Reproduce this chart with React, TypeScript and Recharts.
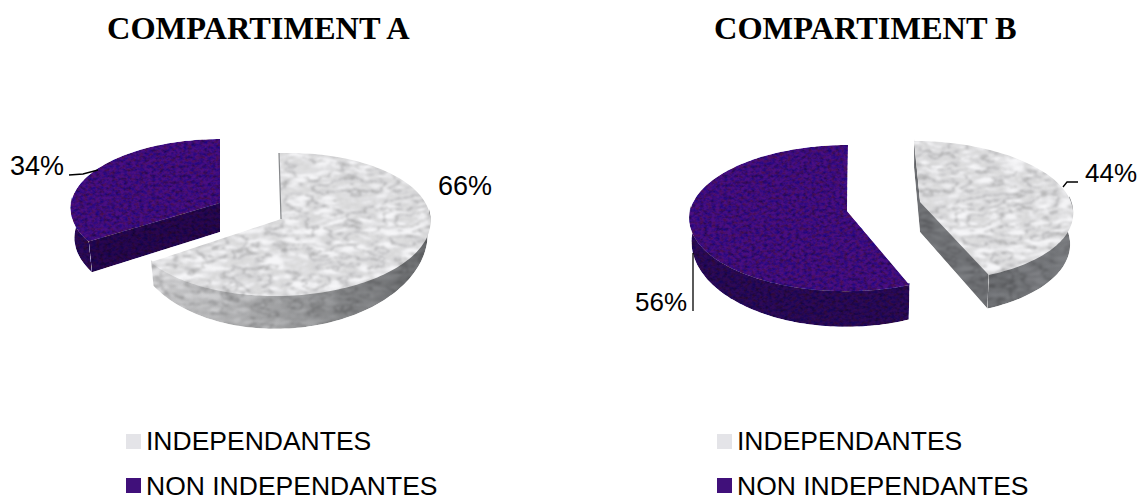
import { Legend, Pie, PieChart, Cell } from "recharts";

const categories = ["INDEPENDANTES", "NON INDEPENDANTES"];
const compartimentA = [66, 34];
const compartimentB = [44, 56];

const SLICE_COLORS = ["#f6f6f8", "#4a0e82"];
const SWATCH_COLORS = ["#e4e4e8", "#40107a"];
const SANS = "'Liberation Sans', Arial, sans-serif";
const SERIF = "'Liberation Serif', 'Times New Roman', serif";

const CLOUD_TABLE = "1 1 1 1 .95 .87 .92 .99 1 1 1";
const VEIN_TABLE =
  "1 1 1 1 1 1 1 1 1 1 1 1 1 1 .96 .8 .96 1 1 1 1 1 .96 .78 .96 1 1 1 1 .96 .82 .97 1 1 1 1 1 1 1 1 1";

type SliceGeometry = {
  apexX: number;
  apexY: number;
  rx: number;
  ry: number;
  persp: number; // how much the front of the disc swells
  skew: number;
  tilt: number;
  scaleX: number; // lower rim relative to upper rim
  scaleY: number;
  depth: number;
  cuts: Array<"start" | "end">;
  wall: string;
  cutFill: string;
  edgeLine?: boolean;
};

type LabelSpot = { x: number; y: number; anchor: "start" | "end"; size: number; leader: string };

const GEOMETRY_A: SliceGeometry[] = [
  { apexX: 281, apexY: 219, rx: 149, ry: 71, persp: 0.077, skew: 2, tilt: -4, scaleX: 0.98, scaleY: 1.27, depth: 12, cuts: [], wall: "url(#marbleWallLit)", cutFill: "#74767a", edgeLine: true },
  { apexX: 220, apexY: 203, rx: 149, ry: 69, persp: 0.08, skew: 0, tilt: 0, scaleX: 0.974, scaleY: 1.04, depth: 29, cuts: ["start"], wall: "#2e0958", cutFill: "#2a0650" },
];
const GEOMETRY_B: SliceGeometry[] = [
  { apexX: 348, apexY: 202, rx: 151, ry: 69, persp: 0.13, skew: 6, tilt: 0, scaleX: 0.98, scaleY: 1.05, depth: 30, cuts: ["start", "end"], wall: "url(#marbleWallDark)", cutFill: "#7c7e82" },
  { apexX: 275, apexY: 211, rx: 157, ry: 72.4, persp: 0.097, skew: -1, tilt: 0, scaleX: 0.985, scaleY: 1.17, depth: 22, cuts: [], wall: "#2e0958", cutFill: "#2a0650" },
];

const LABELS_A: LabelSpot[] = [
  { x: 438, y: 195, anchor: "start", size: 27, leader: "" },
  { x: 64, y: 175, anchor: "end", size: 27, leader: "M69 175 L83 174 L98 170" },
];
const LABELS_B: LabelSpot[] = [
  { x: 513, y: 182, anchor: "start", size: 26, leader: "M491 187 L495 182 L506 182" },
  { x: 115, y: 311, anchor: "end", size: 26, leader: "M121 253 L121 311" },
];

const toPath = (pts: Array<[number, number]>) =>
  "M" + pts.map(([x, y]) => `${x.toFixed(1)} ${y.toFixed(1)}`).join(" L") + " Z";

// Flattened, slightly perspective pie slice: walls first, top face over them
function SliceShape(props: any) {
  const { startAngle, endAngle, index, geometry } = props;
  const g: SliceGeometry = geometry[index];
  const isMarble = index === 0;

  const rim = (deg: number): [number, number] => {
    const rad = (deg * Math.PI) / 180;
    const u = Math.cos(rad);
    const v = -Math.sin(rad);
    const w = 1 / (1 - g.persp * v);
    return [g.apexX + g.rx * u * w + g.skew * v, g.apexY + g.ry * v * w + g.tilt * u];
  };
  const below = ([x, y]: [number, number]): [number, number] => [
    g.apexX + (x - g.apexX) * g.scaleX,
    g.apexY + (y - g.apexY) * g.scaleY + g.depth,
  ];
  // upper wall edges tuck under the top face so no seam shows
  const tuck = ([x, y]: [number, number]): [number, number] => [x, y - 2];

  const angles: number[] = [];
  const steps = Math.ceil(Math.abs(endAngle - startAngle) / 1.5);
  for (let i = 0; i <= steps; i++) angles.push(startAngle + ((endAngle - startAngle) * i) / steps);

  const apex: [number, number] = [g.apexX, g.apexY];
  const arc = angles.map(rim);
  const frontArc = angles.filter((a) => -Math.sin((a * Math.PI) / 180) > -0.06).map(rim);
  const outerWall = [...frontArc.map(tuck), ...frontArc.map(below).reverse()];
  const filter = isMarble ? "url(#marble)" : "url(#felt)";

  return (
    <g>
      <path d={toPath(outerWall)} fill={g.wall} filter={filter} />
      {g.cuts.map((cut) => {
        const end = cut === "start" ? rim(startAngle) : rim(endAngle);
        return <path key={cut} d={toPath([tuck(apex), tuck(end), below(end), below(apex)])} fill={g.cutFill} filter={filter} />;
      })}
      <path d={toPath([apex, ...arc])} fill={props.fill} filter={filter} />
      {g.edgeLine && (
        <path d={`M${apex[0]} ${apex[1]} L${rim(startAngle)[0]} ${rim(startAngle)[1]}`} stroke="#85878a" strokeWidth={1.2} fill="none" />
      )}
    </g>
  );
}

function LegendBlock({ payload, swatches }: any) {
  return (
    <div style={{ fontFamily: SANS, fontSize: 26.5, lineHeight: "44.5px", color: "#000", whiteSpace: "nowrap" }}>
      {(payload ?? []).map((entry: any, i: number) => (
        <div key={entry.value} style={{ display: "flex", alignItems: "center", height: 44.5 }}>
          <span style={{ width: 15, height: 15, marginRight: 5, background: swatches[i], display: "inline-block" }} />
          {entry.value}
        </div>
      ))}
    </div>
  );
}

function Compartment({ title, values, geometry, labels, left, titleX, legendX }: any) {
  const data = categories.map((name, i) => ({ name, value: values[i] }));

  const renderLabel = ({ index, value }: any) => {
    const spot: LabelSpot = labels[index];
    return (
      <g>
        {spot.leader && <path d={spot.leader} stroke="#000" strokeWidth={1.3} fill="none" />}
        <text x={spot.x} y={spot.y} textAnchor={spot.anchor} fontFamily={SANS} fontSize={spot.size} fill="#000">
          {value}%
        </text>
      </g>
    );
  };

  return (
    <div style={{ position: "absolute", left, top: 0, width: 572, height: 496 }}>
      <div
        style={{ position: "absolute", left: titleX, top: 10, fontFamily: SERIF, fontWeight: "bold", fontSize: 32.4, lineHeight: "37px", whiteSpace: "nowrap", color: "#000" }}
      >
        {title}
      </div>
      <PieChart width={572} height={496} margin={{ top: 0, right: 0, bottom: 0, left: 0 }}>
        <Pie
          data={data}
          dataKey="value"
          nameKey="name"
          cx={280}
          cy={220}
          outerRadius={150}
          startAngle={90}
          endAngle={-270}
          stroke="none"
          labelLine={false}
          label={renderLabel}
          shape={(p: any) => <SliceShape {...p} geometry={geometry} />}
          isAnimationActive={false}
        >
          {data.map((d, i) => (
            <Cell key={d.name} fill={SLICE_COLORS[i]} />
          ))}
        </Pie>
        <Legend
          layout="vertical"
          wrapperStyle={{ left: legendX, top: 419, width: 400, bottom: "auto" }}
          content={(p: any) => <LegendBlock payload={p.payload} swatches={SWATCH_COLORS} />}
        />
      </PieChart>
    </div>
  );
}

// Shared texture filters for the two discs
function Textures() {
  return (
    <svg width={0} height={0} style={{ position: "absolute" }}>
      <defs>
        <linearGradient id="marbleWallLit" x1="0" x2="1" y1="0" y2="0">
          <stop offset="0" stopColor="#e6e6e8" />
          <stop offset="0.45" stopColor="#b2b3b5" />
          <stop offset="1" stopColor="#6e7073" />
        </linearGradient>
        <linearGradient id="marbleWallDark" x1="0" x2="1" y1="0" y2="0">
          <stop offset="0" stopColor="#787a7e" />
          <stop offset="1" stopColor="#84868a" />
        </linearGradient>
        <filter id="marble" x="-5%" y="-5%" width="110%" height="110%" colorInterpolationFilters="sRGB">
          <feTurbulence type="fractalNoise" baseFrequency="0.035 0.11" numOctaves="5" seed="4" />
          <feColorMatrix values="1 0 0 0 0 1 0 0 0 0 1 0 0 0 0 0 0 0 0 1" />
          <feComponentTransfer>
            <feFuncR type="table" tableValues={CLOUD_TABLE} />
            <feFuncG type="table" tableValues={CLOUD_TABLE} />
            <feFuncB type="table" tableValues={CLOUD_TABLE} />
          </feComponentTransfer>
          <feGaussianBlur stdDeviation="1" result="cloud" />
          <feTurbulence type="fractalNoise" baseFrequency="0.018 0.05" numOctaves="5" seed="9" />
          <feColorMatrix values="1 0 0 0 0 1 0 0 0 0 1 0 0 0 0 0 0 0 0 1" />
          <feComponentTransfer>
            <feFuncR type="table" tableValues={VEIN_TABLE} />
            <feFuncG type="table" tableValues={VEIN_TABLE} />
            <feFuncB type="table" tableValues={VEIN_TABLE} />
          </feComponentTransfer>
          <feGaussianBlur stdDeviation="0.9" result="veins" />
          <feBlend in="cloud" in2="veins" mode="multiply" result="stone" />
          <feBlend in="SourceGraphic" in2="stone" mode="multiply" />
          <feComposite in2="SourceAlpha" operator="in" />
        </filter>
        <filter id="felt" x="-5%" y="-5%" width="110%" height="110%" colorInterpolationFilters="sRGB">
          <feTurbulence type="fractalNoise" baseFrequency="0.25 0.32" numOctaves="3" seed="11" />
          <feColorMatrix values="1.2 0 0 0 0.22  1.2 0 0 0 0.22  0 0 1 0 0.42  0 0 0 0 1" />
          <feGaussianBlur stdDeviation="0.5" result="speckle" />
          <feBlend in="SourceGraphic" in2="speckle" mode="multiply" />
          <feComposite in2="SourceAlpha" operator="in" />
        </filter>
      </defs>
    </svg>
  );
}

export default function App() {
  return (
    <div style={{ position: "absolute", left: 0, top: 0, width: 1144, height: 496, background: "#fff", overflow: "hidden" }}>
      <Textures />
      <Compartment title="COMPARTIMENT A" values={compartimentA} geometry={GEOMETRY_A} labels={LABELS_A} left={0} titleX={107} legendX={126} />
      <Compartment title="COMPARTIMENT B" values={compartimentB} geometry={GEOMETRY_B} labels={LABELS_B} left={572} titleX={142} legendX={145} />
    </div>
  );
}
